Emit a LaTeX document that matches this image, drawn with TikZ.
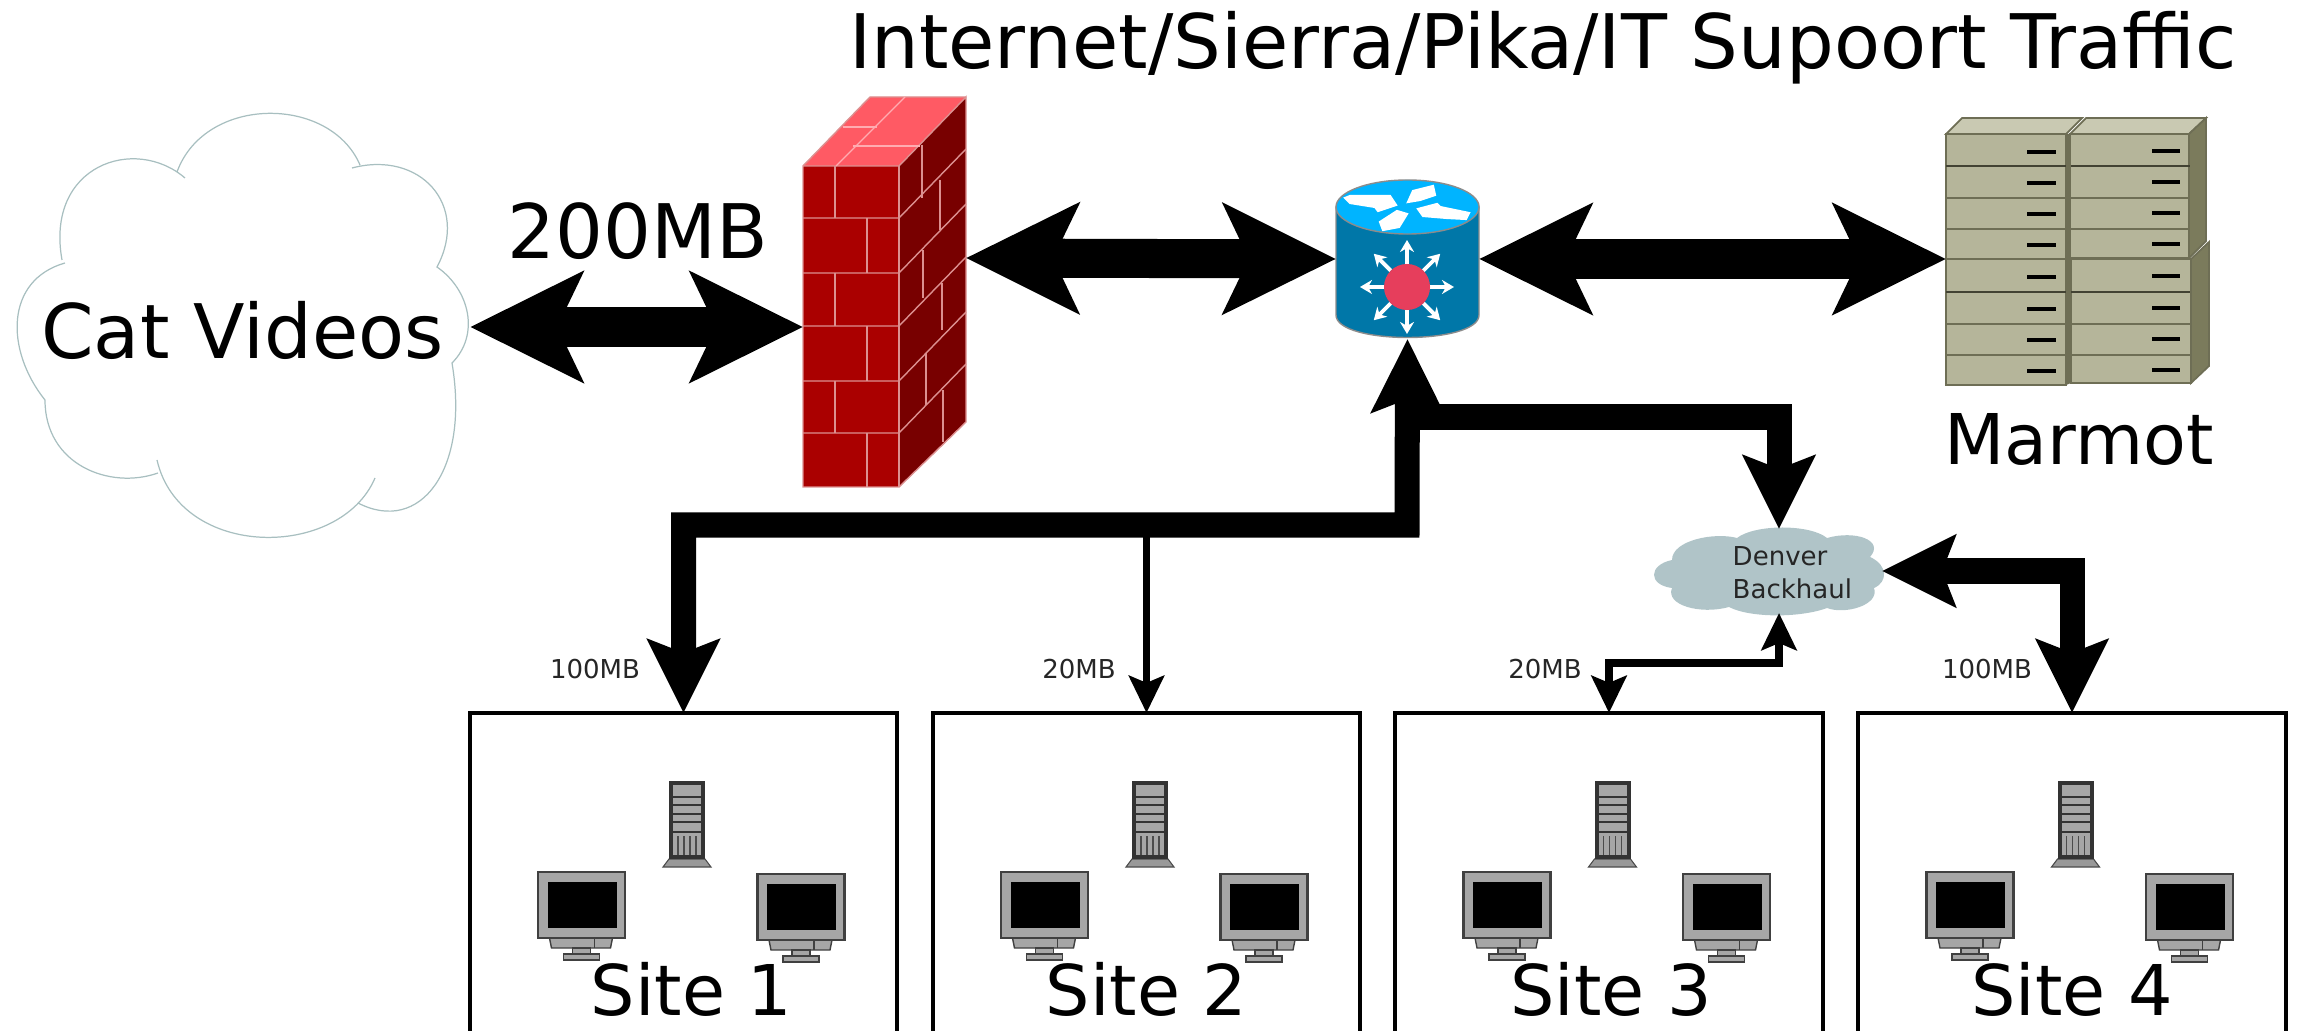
\documentclass[tikz,border=0pt]{standalone}
\usepackage{fontspec}
\setmainfont{DejaVu Sans}
\usetikzlibrary{arrows.meta,positioning}

\definecolor{brickfront}{HTML}{AA0000}
\definecolor{brickside}{HTML}{780000}
\definecolor{bricktop}{HTML}{FF5A64}
\definecolor{brickline}{HTML}{DC9090}
\definecolor{routerside}{HTML}{0077A8}
\definecolor{routertop}{HTML}{00B4FF}
\definecolor{routerhub}{HTML}{E63E5C}
\definecolor{rackfront}{HTML}{B5B59A}
\definecolor{racktop}{HTML}{C9C9B2}
\definecolor{rackside}{HTML}{7B7B5C}
\definecolor{rackline}{HTML}{6E6E55}
\definecolor{cloudline}{HTML}{A8BFC0}
\definecolor{cloudfill}{HTML}{B0C4C8}

\begin{document}
\begin{tikzpicture}[x=0.01cm,y=-0.01cm]

\tikzset{
  hugehead/.tip={Stealth[length=1.12cm,width=1.09cm,inset=.25cm]},
  fathead/.tip={Stealth[length=.73cm,width=.71cm,inset=.13cm]},
  thinhead/.tip={Stealth[length=.37cm,width=.35cm,inset=.07cm]},
  hugepipe/.style={line width=.39cm,{hugehead}-{hugehead}},
  fatpipe/.style={line width=.25cm},
  thinpipe/.style={line width=.075cm},
  bigtext/.style={font=\fontsize{21.4}{25}\selectfont},
  sitetext/.style={font=\fontsize{19.9}{24}\selectfont},
  smalltext/.style={font=\fontsize{7.4}{9.4}\selectfont,text=black!85},
  anchorbox/.style={rectangle,inner sep=0pt,outer sep=0pt},
  sitebox/.style={anchorbox,draw,line width=.04cm,minimum width=4.27cm,minimum height=3.2cm},
  brick/.style={brickline,line width=.4pt},
  sitepc/.pic={
    \draw[fill=black!35,draw=black!75,line width=.4pt] (-32,66) -- (31,66) -- (29,76) -- (-30,76) -- cycle;
    \draw[fill=black!35,draw=black!75,line width=.4pt] (-9,76) rectangle (9,82);
    \draw[fill=black!35,draw=black!75,line width=.4pt] (-18,82) rectangle (18,88);
    \draw[black!75,line width=.4pt] (13,66) -- (13,76);
    \draw[fill=black!35,draw=black!75,line width=.6pt] (-43.5,0) rectangle (43.5,66);
    \fill[black] (-34,10) rectangle (35,56);
  },
  siteserver/.pic={
    \draw[fill=black!40,draw=black!70,line width=.3pt] (-18,78) -- (-24,86) -- (24,86) -- (18,78) -- cycle;
    \fill[black!80] (-18,0) rectangle (18,78);
    \fill[black!35] (-14,4) rectangle (14,74);
    \foreach \ybay in {16,24,33,41,51}
      \draw[black!80,line width=.4pt] (-14,\ybay) -- (14,\ybay);
    \foreach \xbay in {-9,-3,3,9}
      \draw[black!70,line width=.4pt] (\xbay,55) -- (\xbay,74);
  }
}

\useasboundingbox (0,0) rectangle (2297,1031);

\node[bigtext] (title) at (1543,48) {Internet/Sierra/Pika/IT Supoort Traffic};

% cat cloud
\draw[cloudline,line width=.35pt]
  (177,172) .. controls (205,95) and (330,95) .. (360,165)
  (352,168) .. controls (420,150) and (470,205) .. (437,267)
  .. controls (470,290) and (480,335) .. (452,363)
  .. controls (470,470) and (420,535) .. (358,503)
  (375,478) .. controls (340,560) and (180,560) .. (157,460)
  (158,473) .. controls (110,490) and (45,465) .. (45,400)
  .. controls (5,350) and (5,280) .. (65,263)
  (62,260) .. controls (45,165) and (135,135) .. (185,178);
\node[bigtext,anchorbox,text height=.62cm,text depth=0pt,minimum width=4.55cm,minimum height=4.24cm] (cat) at (242.5,327) {Cat Videos};

% firewall
\fill[brickfront] (803,166) rectangle (899,487);
\fill[brickside] (899,166) -- (966,97) -- (966,422) -- (899,487) -- cycle;
\fill[bricktop] (803,166) -- (870,97) -- (966,97) -- (899,166) -- cycle;
\foreach \ybrick in {218,273,326,381,433}
  \draw[brick] (803,\ybrick) -- (899,\ybrick) -- ++(67,-69);
\draw[brick] (803,166) -- (899,166) -- (966,97) -- (966,422) -- (899,487) -- (803,487) -- cycle;
\draw[brick] (803,166) -- (870,97) -- (966,97);
\draw[brick] (899,166) -- (899,487);
\foreach \ytop/\ylow in {166/218,273/326,381/433}
  \draw[brick] (835,\ytop) -- (835,\ylow);
\foreach \ytop/\ylow in {218/273,326/381,433/487}
  \draw[brick] (867,\ytop) -- (867,\ylow);
\draw[brick] (922,145) -- (922,198);
\draw[brick] (940,180) -- (940,230);
\draw[brick] (923,250) -- (923,298);
\draw[brick] (942,283) -- (942,330);
\draw[brick] (926,353) -- (926,405);
\draw[brick] (943,390) -- (943,442);
\draw[brick,bricktop!50!white] (836,166) -- (905,97);
\draw[brick,bricktop!50!white] (843,127) -- (877,127);
\draw[brick,bricktop!50!white] (853,146) -- (920,146);
\coordinate (firewallin) at (803,327);
\coordinate (firewallout) at (966,258);

% router
\node[anchorbox,minimum width=1.43cm,minimum height=1.6cm] (router) at (1407.5,259) {};
\draw[fill=routerside,draw=black!45,line width=.4pt] (1336,207) -- (1336,315) .. controls (1336,345) and (1479,345) .. (1479,315) -- (1479,207) -- cycle;
\draw[fill=routertop,draw=black!45,line width=.4pt] (1407.5,207) ellipse [x radius=.715cm,y radius=.27cm];
\filldraw[white,line width=.6pt] (1345,198) -- (1350,196) -- (1390,196) -- (1396,205) -- (1378,211) -- (1375,207) -- (1350,203) -- cycle;
\filldraw[white,line width=.6pt] (1408,202) -- (1413,191) -- (1433,186) -- (1435,195) -- (1420,200) -- cycle;
\filldraw[white,line width=.6pt] (1418,209) -- (1437,204) -- (1440,207) -- (1469,213) -- (1466,219) -- (1447,218) -- (1423,216) -- cycle;
\filldraw[white,line width=.6pt] (1380,222) -- (1397,211) -- (1407,214) -- (1399,227) -- (1383,230) -- cycle;
\begin{scope}[shift={(1407,287)}]
\foreach \a in {0,45,...,315}
  \draw[white,line width=1.1pt,-{Stealth[length=.12cm,width=.14cm]}] (\a:23) -- (\a:47);
\fill[routerhub] (0,0) circle (.23cm);
\end{scope}

% marmot racks
\draw[fill=racktop,draw=rackline,line width=.5pt] (1946,134) -- (1962,118) -- (2082,118) -- (2066,134) -- cycle;
\draw[fill=racktop,draw=rackline,line width=.5pt] (2070,134) -- (2086,118) -- (2206,118) -- (2189,134) -- cycle;
\draw[fill=rackside,draw=rackline,line width=.5pt] (2189,134) -- (2206,118) -- (2206,241) -- (2189,258) -- cycle;
\draw[fill=rackside,draw=rackline,line width=.5pt] (2191,259) -- (2209,242) -- (2209,366) -- (2191,383) -- cycle;
\draw[fill=rackfront,draw=rackline,line width=.5pt] (1946,134) rectangle (2066,385);
\draw[fill=rackfront,draw=rackline,line width=.5pt] (2070,134) rectangle (2189,258);
\draw[fill=rackfront,draw=rackline,line width=.5pt] (2071,259) rectangle (2191,383);
\fill[rackline] (2066,134) -- (2070,134) -- (2071,383) -- (2066,385) -- cycle;
\foreach \yslot/\shade in {166/60,198/100,229/100,259/100,292/60,324/100,355/100}{
  \draw[rackline!\shade!black,line width=.6pt] (1946,\yslot) -- (2066,\yslot);
  \draw[rackline!\shade!black,line width=.6pt] (2071,\yslot) -- (2190,\yslot);
}
\foreach \yslot in {152,183,214,245,277,309,340,371}{
  \draw[black,line width=1pt] (2027,\yslot) -- (2056,\yslot);
  \draw[black,line width=1pt] (2152,\yslot-1) -- (2180,\yslot-1);
}
\coordinate (marmotin) at (1946,259);
\node[sitetext] (marmot) at (2079,439) {Marmot};

% denver cloud
\fill[cloudfill] (1672,560) .. controls (1672,540) and (1715,532) .. (1737,538)
  .. controls (1755,524) and (1810,524) .. (1827,538)
  .. controls (1855,530) and (1885,540) .. (1870,557)
  .. controls (1888,565) and (1888,582) .. (1874,588)
  .. controls (1880,605) and (1845,615) .. (1827,608)
  .. controls (1800,618) and (1750,618) .. (1729,607)
  .. controls (1700,615) and (1665,605) .. (1672,588)
  .. controls (1648,585) and (1648,565) .. (1672,560) -- cycle;
\node[anchorbox,minimum width=2.06cm,minimum height=.84cm] (denver) at (1779,571) {};
\node[smalltext,align=left,anchor=west,inner sep=0pt] (denvertext) at (1732,573) {Denver\\Backhaul};

% sites
\foreach \n/\cx/\off in {1/683.5/8,2/1146.5/0,3/1609/2,4/2072/0}{
  \node[sitebox] (site\n) at (\cx,873) {};
  \pic at (\cx+3.5,781) {siteserver};
  \pic at (\cx-102,872) {sitepc};
  \pic at (\cx+117.5,874) {sitepc};
  \node[sitetext] (sitelabel\n) at (\cx+\off,989) {Site \n};
}

\draw[hugepipe] (cat.east) -- (firewallin);
\node[bigtext] (catrate) at (638,231) {200MB};
\draw[hugepipe] (firewallout) -- (router.west);
\draw[hugepipe] (router.east) -- (marmotin);

\coordinate (bus) at (1407,525);
\coordinate (branch) at (1407,417);
\draw[fatpipe,{fathead}-{fathead}] (router.south) -- (bus) -| (site1.north);
\draw[fatpipe,-{fathead}] (branch) -| (denver.north);
\draw[thinpipe,-{thinhead}] (site2.north |- bus) -- (site2.north);
\draw[thinpipe,{thinhead}-{thinhead}] (denver.south) -- (1779,663) -| (site3.north);
\draw[fatpipe,{fathead}-{fathead}] (denver.east) -| (site4.north);

\node[smalltext] (rate1) at (595,669) {100MB};
\node[smalltext] (rate2) at (1079,669) {20MB};
\node[smalltext] (rate3) at (1545,669) {20MB};
\node[smalltext] (rate4) at (1987,669) {100MB};

\end{tikzpicture}
\end{document}
